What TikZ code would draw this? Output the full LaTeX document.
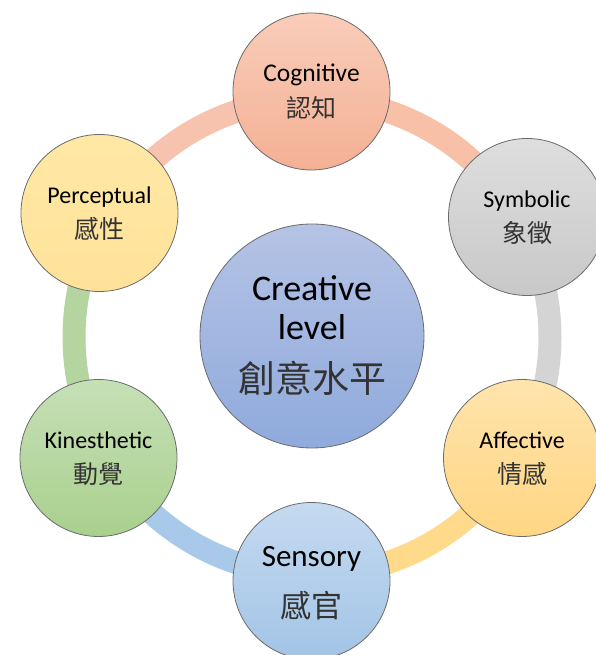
\documentclass[tikz,border=0pt]{standalone}
\usepackage{fontspec}
\setmainfont{Carlito}
\newfontfamily\cjk{Noto Sans CJK TC}
\definecolor{outl}{HTML}{6B6B6B}
\definecolor{cogT}{HTML}{F9CDB9}\definecolor{cogB}{HTML}{F4B094}
\definecolor{symT}{HTML}{DEDEDE}\definecolor{symB}{HTML}{C8C8C8}
\definecolor{affT}{HTML}{FFE4AC}\definecolor{affB}{HTML}{FFD683}
\definecolor{senT}{HTML}{C5DAF0}\definecolor{senB}{HTML}{A2C4E6}
\definecolor{kinT}{HTML}{C6E0B6}\definecolor{kinB}{HTML}{A9D08E}
\definecolor{perT}{HTML}{FFE8A5}\definecolor{perB}{HTML}{FFE299}
\definecolor{cenT}{HTML}{B5C3E5}\definecolor{cenB}{HTML}{8FAADC}
\definecolor{arcA}{HTML}{F7C0A7}
\definecolor{arcB}{HTML}{D4D4D4}
\definecolor{arcC}{HTML}{FFDA8A}
\definecolor{arcD}{HTML}{A9C9EA}
\definecolor{arcE}{HTML}{B4D5A0}
\definecolor{arcF}{HTML}{F7C3AE}
\definecolor{cjkc}{HTML}{333333}
\tikzset{
  ringarc/.style={line width=23pt},
  smallcirc/.style={circle, draw=outl, line width=0.8pt, minimum size=157pt, inner sep=0pt},
  bigcirc/.style={circle, draw=outl, line width=0.8pt, minimum size=224pt, inner sep=0pt},
  lat/.style={anchor=base, inner sep=0pt, font=\fontsize{24}{28}\selectfont},
  han/.style={anchor=base, inner sep=0pt, text=cjkc, font=\cjk\fontsize{25}{30}\selectfont},
  latS/.style={anchor=base, inner sep=0pt, font=\fontsize{31}{36}\selectfont},
  hanS/.style={anchor=base, inner sep=0pt, text=cjkc, font=\cjk\fontsize{31}{36}\selectfont},
  latC/.style={anchor=base, inner sep=0pt, font=\fontsize{36}{42}\selectfont},
  hanC/.style={anchor=base, inner sep=0pt, text=cjkc, font=\cjk\fontsize{37}{42}\selectfont},
}
\begin{document}
\begin{tikzpicture}[x=1pt,y=1pt]
\useasboundingbox (0,0) rectangle (595,655);
% ring
\coordinate (O) at (312,318);
\coordinate (r1) at ([shift={(90:238)}]O);
\coordinate (r2) at ([shift={(30:238)}]O);
\coordinate (r3) at ([shift={(-30:238)}]O);
\coordinate (r4) at ([shift={(-90:238)}]O);
\coordinate (r5) at ([shift={(-150:238)}]O);
\coordinate (r6) at ([shift={(150:238)}]O);
\draw[ringarc, arcA] (r1) arc[start angle=90, end angle=30, radius=238];
\draw[ringarc, arcB] (r2) arc[start angle=30, end angle=-30, radius=238];
\draw[ringarc, arcC] (r3) arc[start angle=-30, end angle=-90, radius=238];
\draw[ringarc, arcD] (r4) arc[start angle=-90, end angle=-150, radius=238];
\draw[ringarc, arcE] (r5) arc[start angle=-150, end angle=-210, radius=238];
\draw[ringarc, arcF] (r6) arc[start angle=150, end angle=90, radius=238];
% circles
\node[bigcirc, top color=cenT, bottom color=cenB] (cen) at (312,319) {};
\node[smallcirc, top color=cogT, bottom color=cogB] (cog) at (311.5,563.5) {};
\node[smallcirc, top color=symT, bottom color=symB] (sym) at (527,438) {};
\node[smallcirc, top color=affT, bottom color=affB] (aff) at (522,197) {};
\node[smallcirc, top color=senT, bottom color=senB] (sen) at (311.5,74) {};
\node[smallcirc, top color=kinT, bottom color=kinB] (kin) at (98.5,197) {};
\node[smallcirc, top color=perT, bottom color=perB] (per) at (99.5,442) {};
% texts
\node[lat, font=\fontsize{25.5}{30}\selectfont] (cogL) at ([yshift=9.5pt]cog.center) {Cognitive};
\node[han] (cogH) at ([yshift=-26pt]cog.center) {認知};
\node[lat] (symL) at ([yshift=9.5pt]sym.center) {Symbolic};
\node[han] (symH) at ([yshift=-26pt]sym.center) {象徵};
\node[lat] (affL) at ([yshift=9.5pt]aff.center) {Affective};
\node[han] (affH) at ([yshift=-26pt]aff.center) {情感};
\node[lat] (kinL) at ([yshift=9.5pt]kin.center) {Kinesthetic};
\node[han] (kinH) at ([yshift=-26pt]kin.center) {動覺};
\node[lat] (perL) at ([yshift=9.5pt]per.center) {Perceptual};
\node[han] (perH) at ([yshift=-26pt]per.center) {感性};
\node[latS] (senL) at ([yshift=14pt]sen.center) {Sensory};
\node[hanS] (senH) at ([yshift=-37pt]sen.center) {感官};
\node[latC] (cenL1) at (312,354) {Creative};
\node[latC] (cenL2) at (312,315) {level};
\node[hanC] (cenH) at (312,262) {創意水平};
\end{tikzpicture}
\end{document}
